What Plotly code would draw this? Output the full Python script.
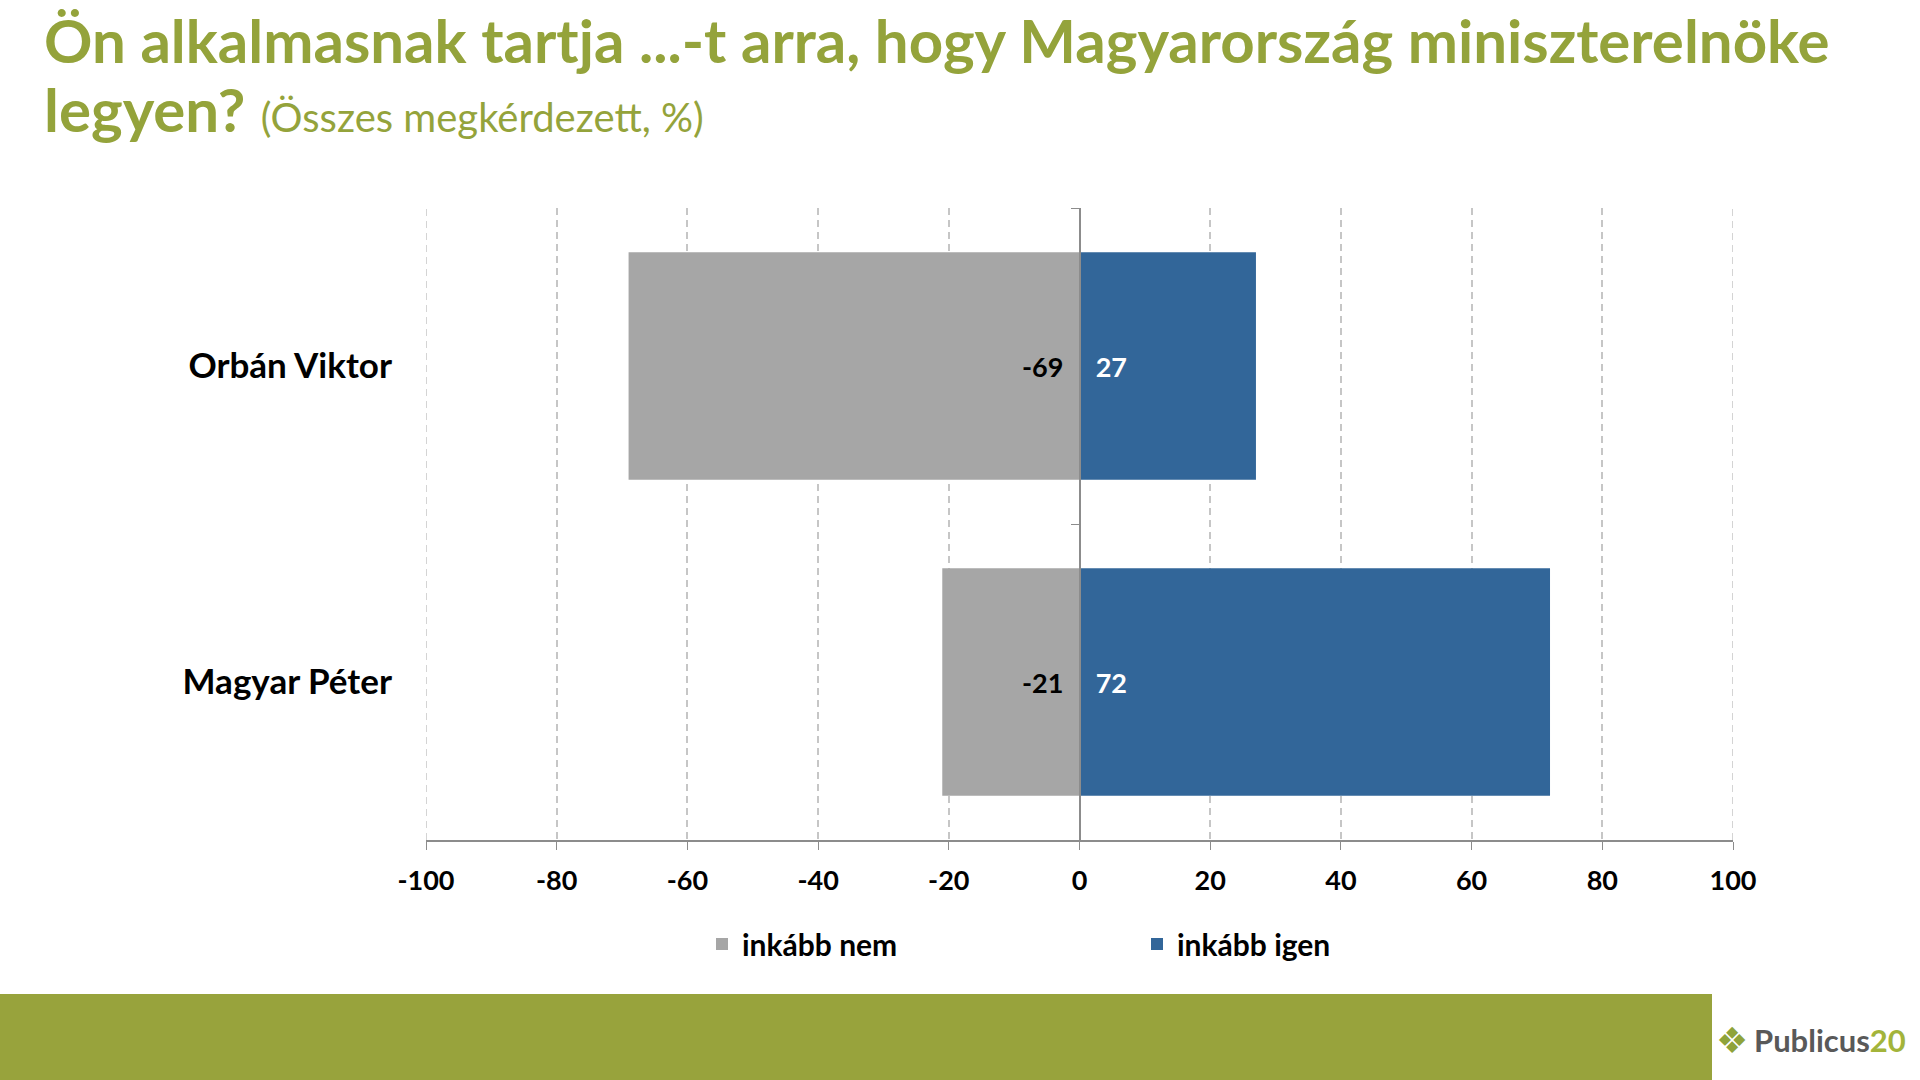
import plotly.graph_objects as go

categories = ["Orbán Viktor", "Magyar Péter"]
nem_values = [-69, -21]
igen_values = [27, 72]
x_ticks = [-100, -80, -60, -40, -20, 0, 20, 40, 60, 80, 100]
series_names = ["inkább nem", "inkább igen"]

GRAY = "#A6A6A6"
BLUE = "#326699"
OLIVE = "#94A33B"
AXIS = "#8C8C8C"
GRID = "#C6C6C6"
GRID_DASH = "7px,5px"
FONT = "Lato"

# plot-area geometry (px)
L, R, T, B = 426, 187, 208, 240
PW, PH = 1920 - L - R, 1080 - T - B


def px_x(px):
    return (px - L) / PW


def px_y(py):
    return (1080 - B - py) / PH


fig = go.Figure()
fig.add_trace(go.Bar(
    y=categories, x=nem_values, name=series_names[0], orientation="h",
    marker=dict(color=GRAY, line=dict(width=0)),
    text=[str(v) for v in nem_values], texttemplate="%{text}\u00a0\u00a0",
    textposition="inside", insidetextanchor="start",
    textfont=dict(family=FONT, size=27, color="black", weight="bold"),
))
fig.add_trace(go.Bar(
    y=categories, x=igen_values, name=series_names[1], orientation="h",
    marker=dict(color=BLUE, line=dict(width=0)),
    text=[str(v) for v in igen_values], texttemplate="\u00a0\u00a0%{text}",
    textposition="inside", insidetextanchor="start",
    textfont=dict(family=FONT, size=27, color="white", weight="bold"),
))
# helper trace so the zero-position axis with boundary ticks is drawn
fig.add_trace(go.Scatter(x=[], y=[], yaxis="y2", showlegend=False, hoverinfo="skip"))

fig.update_layout(
    width=1920, height=1080,
    paper_bgcolor="white", plot_bgcolor="white",
    margin=dict(l=L, r=R, t=T, b=B, autoexpand=False),
    barmode="relative", bargap=0.28,
    font=dict(family=FONT, color="black"),
    showlegend=True,
    legend=dict(orientation="h", x=px_x(702), xanchor="left", y=px_y(944), yanchor="middle",
                font=dict(family=FONT, size=30, color="black", weight="bold"),
                entrywidth=390, traceorder="normal", itemwidth=30),
    xaxis=dict(
        range=[-100, 100], tickvals=x_ticks, ticktext=[str(t) for t in x_ticks],
        showgrid=True, gridcolor=GRID, griddash=GRID_DASH, gridwidth=1.5,
        zeroline=True, zerolinecolor=AXIS, zerolinewidth=1.5,
        showline=True, linecolor=AXIS, linewidth=1.5,
        ticks="outside", ticklen=8, tickcolor=AXIS, tickwidth=1.3,
        tickfont=dict(family=FONT, size=27, color="black", weight="bold"),
        ticklabelstandoff=8, fixedrange=True,
    ),
    yaxis=dict(
        type="category", categoryorder="array", categoryarray=categories,
        autorange="reversed", showgrid=False, zeroline=False, showline=False,
        ticks="", ticklabelstandoff=33,
        tickfont=dict(family=FONT, size=35, color="black", weight="bold"),
    ),
    yaxis2=dict(
        overlaying="y", anchor="free", position=0.5, side="left",
        range=[1.5, -0.5], tickvals=[-0.5, 0.5], showticklabels=False,
        showline=True, linecolor=AXIS, linewidth=1.5,
        ticks="outside", ticklen=8, tickcolor=AXIS, tickwidth=1.3,
        showgrid=False, zeroline=False,
    ),
)

# dashed gridlines at the range ends (plotly omits them at the edges)
for xv in (x_ticks[0], x_ticks[-1]):
    fig.add_shape(type="line", xref="x", yref="paper", x0=xv, x1=xv, y0=0, y1=1,
                  line=dict(color=GRID, width=1.5, dash=GRID_DASH), layer="below")

# title lines
fig.add_annotation(xref="paper", yref="paper", x=px_x(42), y=px_y(40),
                   xanchor="left", yanchor="middle", showarrow=False,
                   text="<b>Ön alkalmasnak tartja ...-t arra, hogy Magyarország miniszterelnöke</b>",
                   font=dict(family=FONT, size=60, color=OLIVE))
fig.add_annotation(xref="paper", yref="paper", x=px_x(42), y=px_y(109),
                   xanchor="left", yanchor="middle", showarrow=False,
                   text="<b>legyen?</b> <span style='font-size:40px'>(Összes megkérdezett, %)</span>",
                   font=dict(family=FONT, size=60, color=OLIVE))

# bottom band
fig.add_shape(type="rect", xref="paper", yref="paper",
              x0=px_x(0), x1=px_x(1712), y0=px_y(994), y1=px_y(1085),
              fillcolor="#98A33C", line=dict(width=0), layer="above")

# logo
fig.add_annotation(xref="paper", yref="paper", x=px_x(1750), y=px_y(1040),
                   xanchor="right", yanchor="middle", showarrow=False,
                   text="❖", font=dict(family="DejaVu Sans", size=36, color="#8FA33A"))
fig.add_annotation(xref="paper", yref="paper", x=px_x(1752), y=px_y(1040),
                   xanchor="left", yanchor="middle", showarrow=False,
                   text="<b>Publicus</b><span style='color:#A3B43A'><b>20</b></span>",
                   font=dict(family=FONT, size=31, color="#595959"))

fig.write_html("out.html")
